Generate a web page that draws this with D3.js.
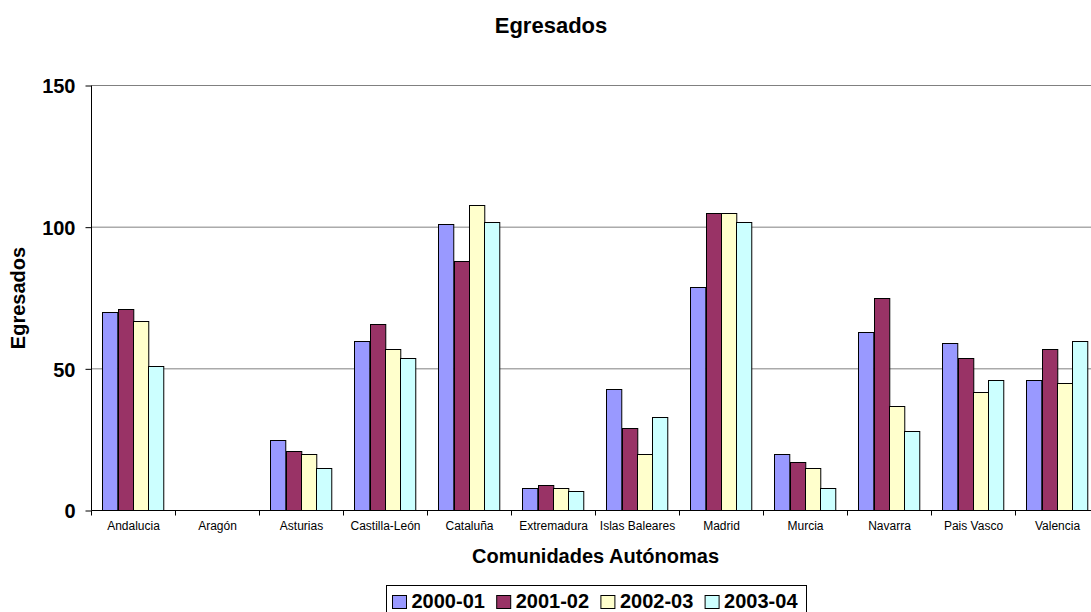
<!DOCTYPE html>
<html>
<head>
<meta charset="utf-8">
<script src="https://cdn.jsdelivr.net/npm/d3@7"></script>
<style>
  html, body { margin: 0; padding: 0; background: #fff; }
  svg { display: block; font-family: "Liberation Sans", Arial, sans-serif; }
</style>
</head>
<body>
<svg id="chart" width="1091" height="612"></svg>
<script>
const categories = ["Andalucia", "Aragón", "Asturias", "Castilla-León", "Cataluña", "Extremadura",
  "Islas Baleares", "Madrid", "Murcia", "Navarra", "Pais Vasco", "Valencia"];
const seriesNames = ["2000-01", "2001-02", "2002-03", "2003-04"];
const values2000_01 = [70, 0, 25, 60, 101, 8, 43, 79, 20, 63, 59, 46];
const values2001_02 = [71, 0, 21, 66, 88, 9, 29, 105, 17, 75, 54, 57];
const values2002_03 = [67, 0, 20, 57, 108, 8, 20, 105, 15, 37, 42, 45];
const values2003_04 = [51, 0, 15, 54, 102, 7, 33, 102, 8, 28, 46, 60];
const yTicks = [0, 50, 100, 150];
const colors = ["#9999FF", "#993366", "#FFFFCC", "#CCFFFF"];

(function () {
const seriesValues = [values2000_01, values2001_02, values2002_03, values2003_04];
const table = categories.map((c, i) => ({
  category: c,
  values: seriesNames.map((s, j) => ({ series: s, value: seriesValues[j][i] }))
}));

const svg = d3.select("#chart");
const plotLeft = 91.5, bandW = 84, plotTop = 85.5, plotBottom = 510.5;

const x0 = d3.scaleBand().domain(categories).range([plotLeft, plotLeft + bandW * categories.length]).paddingInner(0).paddingOuter(0);
const x1 = d3.scaleBand().domain(seriesNames).range([0, x0.bandwidth()]).paddingInner(0).paddingOuter(0.75);
const y = d3.scaleLinear().domain([0, 150]).range([plotBottom, plotTop]);
const color = d3.scaleOrdinal().domain(seriesNames).range(colors);

// gridlines
svg.append("g").selectAll("line").data(yTicks.filter(d => d > 0)).join("line")
  .attr("x1", plotLeft).attr("x2", 1091)
  .attr("y1", d => y(d)).attr("y2", d => y(d))
  .attr("stroke", "#808080").attr("stroke-width", 1);

// bars
const groups = svg.append("g").selectAll("g").data(table).join("g")
  .attr("transform", d => `translate(${x0(d.category)},0)`);
groups.selectAll("rect").data(d => d.values.filter(v => v.value > 0)).join("rect")
  .attr("x", d => Math.round(x1(d.series)))
  .attr("width", d => x1.bandwidth())
  .attr("y", d => Math.round(y(d.value)) + 0.5)
  .attr("height", d => y(0) - (Math.round(y(d.value)) + 0.5))
  .attr("fill", d => color(d.series))
  .attr("stroke", "#000").attr("stroke-width", 1);

// y axis
const yAxis = svg.append("g").attr("transform", `translate(${plotLeft},0)`)
  .call(d3.axisLeft(y).tickValues(yTicks).tickSize(6).tickPadding(10).tickFormat(d3.format("d")));
yAxis.select(".domain").attr("stroke", "#000").attr("d", `M0,${plotTop}V${plotBottom}`);
yAxis.selectAll(".tick line").attr("stroke", "#000");
yAxis.selectAll(".tick text").attr("font-size", 20).attr("font-weight", "bold")
  .attr("fill", "#000").attr("font-family", "Liberation Sans, Arial, sans-serif").attr("dy", "0.36em");

// x axis
const xAxis = svg.append("g").attr("transform", `translate(0,${plotBottom})`)
  .call(d3.axisBottom(x0).tickSize(0).tickPadding(11));
xAxis.select(".domain").attr("stroke", "#000").attr("d", `M${plotLeft},0H1091`);
xAxis.selectAll(".tick text").attr("font-size", 12).attr("fill", "#000")
  .attr("font-family", "Liberation Sans, Arial, sans-serif");
xAxis.append("g").selectAll("line").data(categories).join("line")
  .attr("x1", d => x0(d)).attr("x2", d => x0(d))
  .attr("y1", 0).attr("y2", 5).attr("stroke", "#000");

// titles
svg.append("text").attr("x", 551).attr("y", 32.5).attr("text-anchor", "middle")
  .attr("font-size", 22).attr("font-weight", "bold").text("Egresados");
svg.append("text").attr("x", (x0.range()[0] + x0.range()[1]) / 2).attr("y", 563)
  .attr("text-anchor", "middle").attr("font-size", 20).attr("font-weight", "bold")
  .text("Comunidades Autónomas");
svg.append("text").attr("transform", `translate(25,${(plotTop + plotBottom) / 2}) rotate(-90)`)
  .attr("text-anchor", "middle").attr("font-size", 20).attr("font-weight", "bold").text("Egresados");

// legend
const lg = svg.append("g");
lg.append("rect").attr("x", 386.5).attr("y", 585.5).attr("width", 420).attr("height", 40)
  .attr("fill", "#fff").attr("stroke", "#000");
const items = lg.selectAll("g").data(seriesNames).join("g")
  .attr("transform", (d, i) => `translate(${392.5 + i * 104.2},0)`);
items.append("rect").attr("x", 0).attr("y", 595.5).attr("width", 14).attr("height", 13)
  .attr("fill", d => color(d)).attr("stroke", "#000");
items.append("text").attr("x", 19).attr("y", 608.3).attr("font-size", 20).attr("font-weight", "bold")
  .text(d => d);
})();
</script>
</body>
</html>
